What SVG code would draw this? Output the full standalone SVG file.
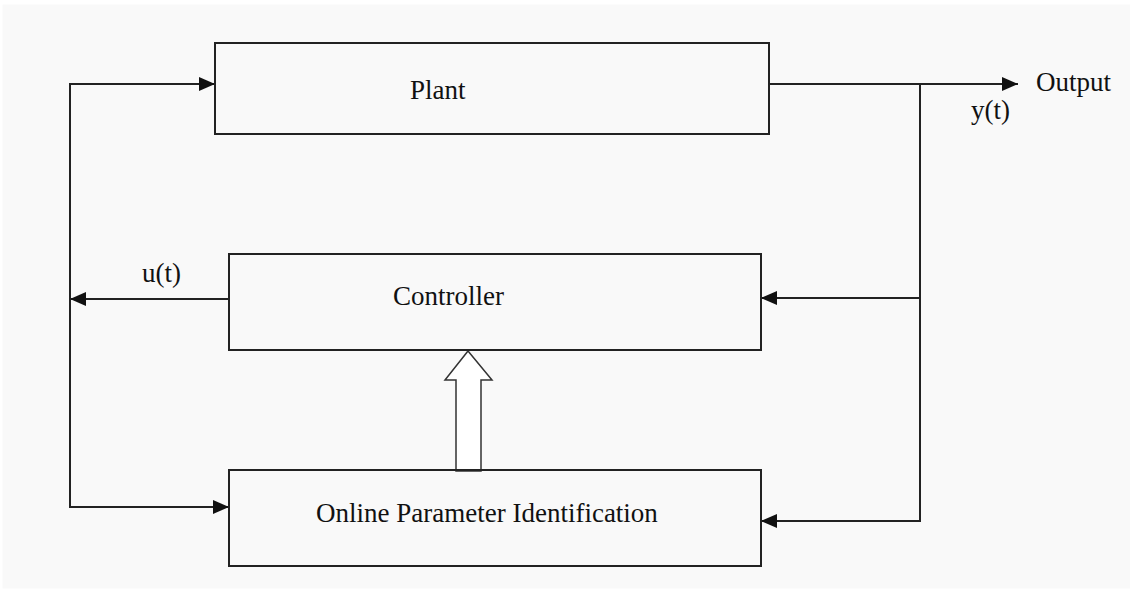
<svg xmlns="http://www.w3.org/2000/svg" width="1130" height="598" viewBox="0 0 1130 598">
  <defs>
    <style>
      .box { fill: none; stroke: #222; stroke-width: 2; }
      .line { fill: none; stroke: #222; stroke-width: 2; }
      .lbl { font-size: 27px; fill: #111; }
    </style>
    <marker id="arr" markerUnits="userSpaceOnUse" markerWidth="16" markerHeight="14" viewBox="0 0 16 14" refX="16" refY="7" orient="auto">
      <path d="M0,0 L16,7 L0,14 Z" fill="#111"/>
    </marker>
  </defs>
  <rect x="0" y="0" width="1130" height="598" fill="#ffffff"/>
  <rect x="2.5" y="4.5" width="1128" height="584" fill="#f9f9f9"/>

  <g id="connectors">
    <polyline class="line" points="229,299 70,299" marker-end="url(#arr)"/>
    <polyline class="line" points="70,507 70,84 215,84" marker-end="url(#arr)"/>
    <polyline class="line" points="70,299 70,507 229,507" marker-end="url(#arr)"/>
    <polyline class="line" points="769,84 1018,84" marker-end="url(#arr)"/>
    <polyline class="line" points="920,84 920,298 761,298" marker-end="url(#arr)"/>
    <polyline class="line" points="920,298 920,521 761,521" marker-end="url(#arr)"/>
    <path id="hollow-arrow" d="M468,351 L492,380 L481,380 L481,471 L456,471 L456,380 L445,380 Z" fill="#ffffff" stroke="#333" stroke-width="1.5"/>
    <text class="lbl" font-family="'Liberation Serif', 'Times New Roman', serif" x="142" y="282">u(t)</text>
    <text class="lbl" font-family="'Liberation Serif', 'Times New Roman', serif" x="971" y="119">y(t)</text>
    <text class="lbl" font-family="'Liberation Serif', 'Times New Roman', serif" x="1036" y="91">Output</text>
  </g>

  <g id="plant">
    <rect class="box" x="215" y="43" width="554" height="91"/>
    <text class="lbl" font-family="'Liberation Serif', 'Times New Roman', serif" x="410" y="99">Plant</text>
  </g>
  <g id="controller">
    <rect class="box" x="229" y="254" width="532" height="96"/>
    <text class="lbl" font-family="'Liberation Serif', 'Times New Roman', serif" x="393" y="305">Controller</text>
  </g>
  <g id="identification">
    <rect class="box" x="229" y="470" width="532" height="96"/>
    <text class="lbl" font-family="'Liberation Serif', 'Times New Roman', serif" x="316" y="522">Online Parameter Identification</text>
  </g>
</svg>
